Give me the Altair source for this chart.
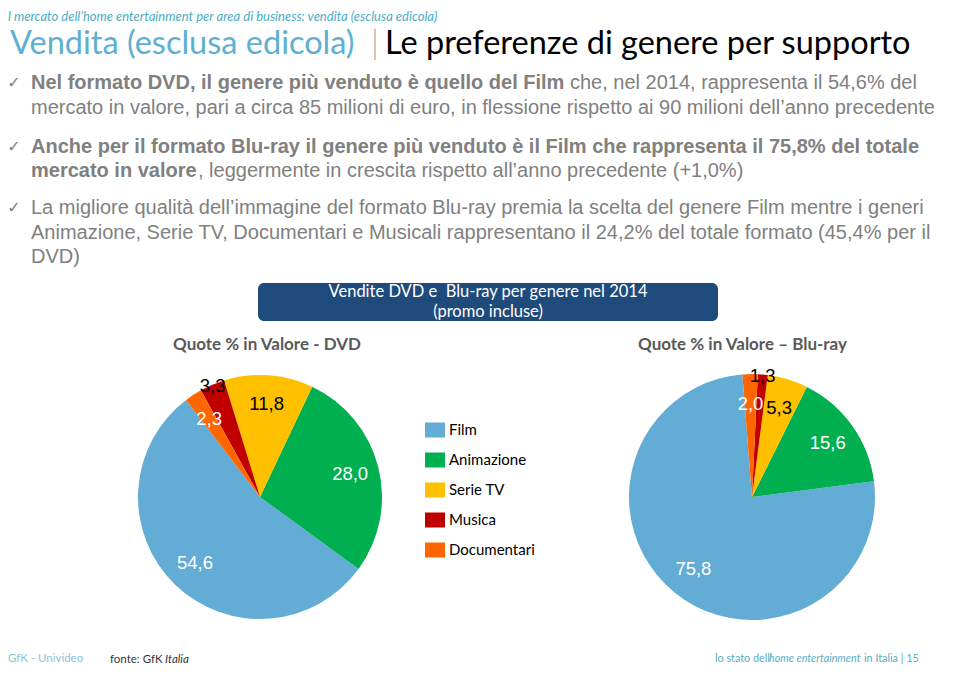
import math
import altair as alt
import pandas as pd

# ---------------- data ----------------
genres = ["Film", "Animazione", "Serie TV", "Musica", "Documentari"]
genre_colors = ["#62acd5", "#00b050", "#ffc000", "#c00000", "#ff6600"]
dvd_share = [54.6, 28.0, 11.8, 3.3, 2.3]
bluray_share = [75.8, 15.6, 5.3, 1.3, 2.0]
slice_order = ["Documentari", "Musica", "Serie TV", "Animazione", "Film"]

header_small = "il mercato dell’home entertainment per area di business: vendita (esclusa edicola)"
title_left = "Vendita (esclusa edicola)"
title_right = "Le preferenze di genere per supporto"
banner_lines = ["Vendite DVD e\u00a0 Blu-ray per genere nel 2014", "(promo incluse)"]
dvd_title = "Quote % in Valore - DVD"
bluray_title = "Quote % in Valore – Blu-ray"

OX, OY = 8, 8


def P(x):
    return x - OX


def Q(y):
    return y - OY


def pie_df(values):
    df = pd.DataFrame({"genre": genres, "share": values})
    df["label"] = df["share"].map(lambda v: f"{v:.1f}".replace(".", ","))
    df["ord"] = df["genre"].map(slice_order.index)
    return df


color_scale = alt.Scale(domain=genres, range=genre_colors)


def pie(values, cx, cy, r, start_deg, legend):
    df = pie_df(values)
    s = math.radians(start_deg % 360)
    tscale = alt.Scale(range=[s, s + 2 * math.pi])
    base = alt.Chart(df).encode(
        theta=alt.Theta("share:Q", stack=True, scale=tscale),
        order=alt.Order("ord:Q"),
        x=alt.value(P(cx)),
        y=alt.value(Q(cy)),
    )
    arc = base.mark_arc(outerRadius=r, strokeWidth=0).encode(
        color=alt.Color("genre:N", scale=color_scale, legend=legend)
    )
    dark = "datum.genre == 'Serie TV' || datum.genre == 'Musica'"
    tcol = alt.condition(dark, alt.value("black"), alt.value("white"))
    lab_in = base.mark_text(radius=93, fontSize=18.5, font="Liberation Sans").encode(
        text="label:N",
        color=tcol,
        opacity=alt.condition("datum.genre == 'Musica'", alt.value(0), alt.value(1)),
    )
    lab_out = base.mark_text(radius=121, fontSize=18.5, font="Liberation Sans").encode(
        text="label:N",
        color=tcol,
        opacity=alt.condition("datum.genre == 'Musica'", alt.value(1), alt.value(0)),
    )
    return alt.layer(arc, lab_in, lab_out)


dummy = pd.DataFrame({"k": [0]})


def txt(s, x, y, size, color="#808080", font="Liberation Sans", weight="normal",
        style="normal", align="left"):
    return alt.Chart(pd.DataFrame({"t": [s]})).mark_text(
        font=font, fontSize=size, fontWeight=weight, fontStyle=style,
        align=align, baseline="middle", color=color,
    ).encode(text="t:N", x=alt.value(P(x)), y=alt.value(Q(y)))


legend = alt.Legend(
    orient="none", legendX=P(425), legendY=Q(420), title=None, direction="vertical",
    symbolType="M-1,-0.75H1V0.75H-1Z", symbolSize=400, symbolStrokeWidth=0,
    symbolOpacity=1, labelFont="Lato", labelFontSize=15, labelColor="black",
    rowPadding=12, labelOffset=4, padding=0,
)

dvd_pie = pie(dvd_share, 260, 497, 122, -37.3, legend)
br_pie = pie(bluray_share, 752, 497, 123, -4.5, None)

gray = "#808080"
body = 20
teal = "#5aaec6"
layers = [
    txt(header_small, 5, 17, 13, color="#4bacc6", font="Lato", style="italic"),
    txt(title_left, 10, 44, 32.5, color="#5eb0d2", font="Lato"),
    txt("|", 371, 44, 32.5, color="#aaaaaa", font="Lato", weight=300),
    txt(title_right, 385, 44, 32.5, color="black", font="Lato"),
    # bullets
    txt("✓", 14, 83, 16, color=gray, font="DejaVu Sans", align="center"),
    txt("✓", 14, 147, 16, color=gray, font="DejaVu Sans", align="center"),
    txt("✓", 14, 208, 16, color=gray, font="DejaVu Sans", align="center"),
    txt("Nel formato DVD, il genere più venduto è quello del Film", 31, 83, body, weight="bold"),
    txt("che, nel 2014, rappresenta il 54,6% del", 570, 83, body),
    txt("mercato in valore, pari a circa 85 milioni di euro, in flessione rispetto ai 90 milioni dell’anno precedente", 31, 108, body),
    txt("Anche per il formato Blu-ray il genere più venduto è il Film che rappresenta il 75,8% del totale", 31, 147, body, weight="bold"),
    txt("mercato in valore", 31, 171, body, weight="bold"),
    txt(", leggermente in crescita rispetto all’anno precedente (+1,0%)", 198, 171, body),
    txt("La migliore qualità dell’immagine del formato Blu-ray premia la scelta del genere Film mentre i generi", 31, 208, body),
    txt("Animazione, Serie TV, Documentari e Musicali rappresentano il 24,2% del totale formato (45,4% per il", 31, 233, body),
    txt("DVD)", 31, 257, body),
    # banner
    alt.Chart(dummy).mark_rect(color="#1f4a7c", cornerRadius=6).encode(
        x=alt.value(P(258)), x2=alt.value(P(718)), y=alt.value(Q(283)), y2=alt.value(Q(321))
    ),
    txt(banner_lines[0], 488, 292, 16.5, color="white", font="Lato", align="center"),
    txt(banner_lines[1], 488, 312, 16.5, color="white", font="Lato", align="center"),
    txt(dvd_title, 173, 345, 17, color="#595959", font="Lato", weight="bold"),
    txt(bluray_title, 638, 345, 17, color="#595959", font="Lato", weight="bold"),
    dvd_pie,
    br_pie,
    # footer
    txt("GfK - Univideo", 8, 659, 11.5, color="#8cc4d2", font="Lato"),
    txt("fonte: GfK", 110, 660, 11.5, color="#333333", font="Lato"),
    txt("Italia", 165, 660, 11.5, color="#333333", font="Lato", style="italic"),
    txt("lo stato dell’", 715, 659, 10.8, color=teal, font="Lato"),
    txt("home entertainment", 769, 659, 10.8, color=teal, font="Lato", style="italic"),
    txt("in Italia | 15", 864, 659, 10.8, color=teal, font="Lato"),
]

chart = alt.layer(*layers).resolve_scale(theta="independent").properties(
    width=944, height=658, padding=0, background="white",
    autosize=alt.AutoSizeParams(type="none"),
).configure_view(stroke=None)

chart.save("out.html", embed_options={"renderer": "svg", "actions": False})
